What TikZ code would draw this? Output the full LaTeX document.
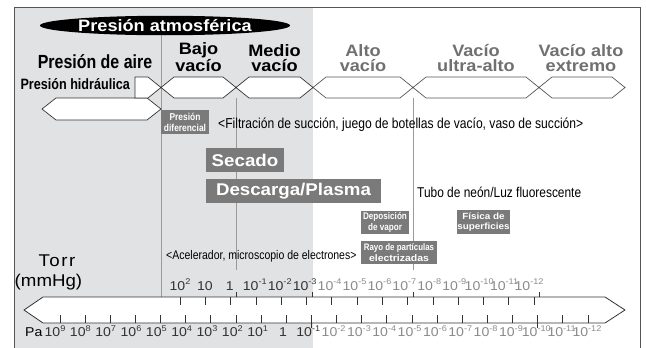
\documentclass[tikz,border=0pt]{standalone}
\usepackage{fontspec}
\setmainfont{Liberation Sans}
\newfontfamily\wdf[FakeStretch=1.1]{Liberation Sans}
\newfontfamily\cdf[FakeStretch=0.84]{Liberation Sans}
\newfontfamily\spf[FakeStretch=1.1,LetterSpace=9]{Liberation Sans}
\usetikzlibrary{shapes.geometric}
\definecolor{bgray}{HTML}{E1E2E4}
\definecolor{boxg}{HTML}{7A7A7A}
\definecolor{lblg}{HTML}{707070}
\definecolor{numg}{HTML}{8A8A8A}
\definecolor{linek}{HTML}{333333}
\definecolor{vline}{HTML}{9A9A9A}
\definecolor{frameg}{HTML}{555555}
\newcommand\fs[1]{\fontsize{#1}{#1}\selectfont}
\newcommand\tn[1]{10\raisebox{0.42em}{\fs{8.3}#1}}
\newcommand\hexag[3]{\draw[hexa,#3] (#1,87.5) -- (#1+13,77) -- (#2-13,77) -- (#2,87.5) -- (#2-13,98) -- (#1+13,98) -- cycle;}
\begin{document}
\begin{tikzpicture}[x=1pt,y=-1pt,
  hexa/.style={draw=linek, fill=white, line width=0.7pt, line join=miter},
  tickln/.style={draw=linek, line width=0.7pt},
  vln/.style={draw=vline, line width=0.8pt},
  gbox/.style={fill=boxg, text=white, inner sep=0pt, align=center},
  toplbl/.style={font=\wdf\bfseries\fontsize{16.5}{15}\selectfont, align=center, inner sep=0pt, anchor=base},
  numlbl/.style={font=\wdf\fs{12.8}, inner sep=0pt, anchor=base},
  plain/.style={inner sep=0pt, anchor=base west}]
\useasboundingbox (0,0) rectangle (646,348);
\fill[bgray] (14,7) rectangle (313,348);
\draw[draw=frameg, line width=1pt] (14,348) -- (14,7) -- (640,7) -- (640,348);
% vertical region lines
\draw[vln] (161,34) -- (161,297);
\draw[vln] (236,98) -- (236,270);
\draw[vln] (413,98) -- (413,270);
% title
\node[ellipse, fill=black, minimum width=250pt, minimum height=19.5pt, inner sep=0pt, text=white, font=\wdf\bfseries\fs{16.5}] (atm) at (165,25.5) {Presión atmosférica};
% hexagons
\draw[hexa] (42,109) -- (56,98) -- (147,98) -- (161,109) -- (147,120) -- (56,120) -- cycle;
\draw[hexa] (135,77) -- (148,77) -- (161,87.5) -- (148,98) -- (135,98) -- cycle;
\hexag{161}{236}{}
\hexag{236}{313}{}
\hexag{313}{413}{draw=frameg}
\hexag{413}{539}{draw=frameg}
\hexag{539}{625}{draw=frameg}
% range labels
\node[toplbl, font=\cdf\bfseries\fs{19}] (aire) at (95,68.5) {Presión de aire};
\node[toplbl] (bajo) at (198.5,71) {Bajo\\vacío};
\node[toplbl] (medio) at (274.5,71) {Medio\\vacío};
\node[toplbl, text=lblg] (alto) at (363,71) {Alto\\vacío};
\node[toplbl, text=lblg] (ultra) at (476,71) {Vacío\\ultra-alto};
\node[toplbl, text=lblg] (extr) at (581,71) {Vacío alto\\extremo};
\node[plain, anchor=base east, font=\cdf\bfseries\fs{15}] (hidr) at (130,89.5) {Presión hidráulica};
% applications
\node[gbox, minimum width=48pt, minimum height=24pt, font=\cdf\bfseries\fontsize{10}{11}\selectfont] (dif) at (185,122) {Presión\\diferencial};
\node[plain, font=\cdf\fs{14.4}] (filt) at (218,128) {<Filtración de succión, juego de botellas de vacío, vaso de succión>};
\node[gbox, minimum width=78pt, minimum height=24pt, font=\wdf\bfseries\fs{17}] (sec) at (245,160) {Secado};
\node[gbox, minimum width=175pt, minimum height=24pt, font=\wdf\bfseries\fs{17}] (desc) at (293.5,191) {Descarga/Plasma};
\node[plain, font=\cdf\fs{14.2}] (neon) at (417,197) {Tubo de neón/Luz fluorescente};
\node[gbox, minimum width=48pt, minimum height=23pt, font=\cdf\bfseries\fontsize{9.7}{10.5}\selectfont] (dep) at (385,222.5) {Deposición\\de vapor};
\node[gbox, minimum width=53pt, minimum height=24pt, font=\wdf\bfseries\fontsize{9}{10.5}\selectfont] (fis) at (483.5,222) {Física de\\superficies};
\node[gbox, minimum width=76pt, minimum height=23pt, font=\fontsize{9.5}{10.5}\selectfont] (rayo) at (399,252.5) {{\cdf\bfseries\fontsize{9.4}{10.5}\selectfont Rayo de partículas}\\{\wdf\bfseries\fontsize{9.5}{10.5}\selectfont electrizadas}};
\node[plain, font=\cdf\fs{12.5}] (acel) at (166,259.5) {<Acelerador, microscopio de electrones>};
% scale
\node[plain, anchor=base, font=\spf\fs{17}] (torr) at (57,266.5) {Torr};
\node[plain, font=\wdf\fs{17}] (mmhg) at (14.5,286.5) {(mmHg)};
\node[plain, font=\wdf\fs{12.8}] (pa) at (25,336.5) {Pa};
\draw[draw=linek, fill=white, line width=0.8pt] (24,310) -- (43,297) -- (605,297) -- (625,310) -- (605,323) -- (43,323) -- cycle;
\foreach \k in {0,...,14} \draw[tickln] ({180+25.29*\k},297) -- ++(0,8);
\foreach \k in {0,...,21} \draw[tickln] ({60+25.14*\k},323) -- ++(0,-8);
\draw[tickln] ({60+25.14*10},323) -- ++(0,5);
\draw[tickln] ({60+25.14*19},323) -- ++(0,5);
\foreach \x in {236,312,413,539} \draw[tickln] (\x,297) -- ++(0,-5);
% torr labels
\node[numlbl, text=linek] (t0) at (180,290) {\tn{2}};
\node[numlbl, text=linek] (t1) at (204.93,290) {10};
\node[numlbl, text=linek] (t2) at (229.86,290) {1};
\foreach \e [count=\k from 3] in {-1,-2,-3} \node[numlbl, text=linek] (t\k) at ({180+24.93*\k},290) {\tn{\e}};
\foreach \e [count=\k from 6] in {-4,-5,...,-12} \node[numlbl, text=numg] (t\k) at ({180+24.93*\k},290) {\tn{\e}};
% pa labels
\foreach \e [count=\k from 0] in {9,8,...,1} \node[numlbl, text=linek] (p\k) at ({55+25.33*\k},336.5) {\tn{\e}};
\node[numlbl, text=linek] (p9) at ({55+25.33*9},336.5) {1};
\node[numlbl, text=linek] (p10) at ({55+25.33*10},336.5) {\tn{-1}};
\foreach \e [count=\k from 11] in {-2,-3,...,-12} \node[numlbl, text=numg] (p\k) at ({55+25.33*\k},336.5) {\tn{\e}};
\end{tikzpicture}
\end{document}
